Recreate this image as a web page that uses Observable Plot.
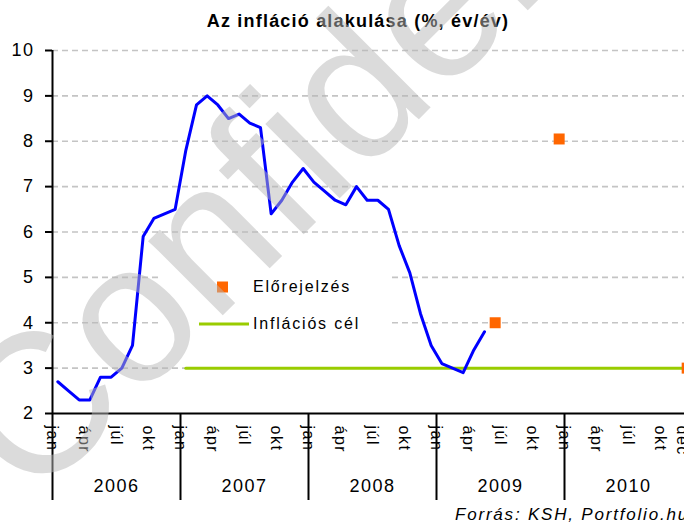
<!DOCTYPE html>
<html><head><meta charset="utf-8">
<script src="https://cdn.jsdelivr.net/npm/d3@7"></script>
<script src="https://cdn.jsdelivr.net/npm/@observablehq/plot@0.6"></script>
<style>
html,body{margin:0;padding:0;background:#fff;overflow:hidden;}
</style></head><body><div id="chart"></div>
<script>
// ---- data ----
const startYear = 2006;
const inflation = [
  2.7, 2.5, 2.3, 2.3, 2.8, 2.8, 3.0, 3.5, 5.9, 6.3, 6.4, 6.5,   // 2006
  7.8, 8.8, 9.0, 8.8, 8.5, 8.6, 8.4, 8.3, 6.4, 6.7, 7.1, 7.4,   // 2007
  7.1, 6.9, 6.7, 6.6, 7.0, 6.7, 6.7, 6.5, 5.7, 5.1, 4.2, 3.5,   // 2008
  3.1, 3.0, 2.9, 3.4, 3.8                                       // 2009
];
const forecastMonths = ["2009-06", "2009-12", "2010-12"];
const forecastValues = [4.0, 8.05, 3.0];
const targetMonths = ["2007-01", "2010-12"];
const targetValue = 3;
const years = [2006, 2007, 2008, 2009, 2010];
const monthLabels = ["jan", "ápr", "júl", "okt"];
const lastMonthLabel = {month: "2010-12", label: "dec"};
const yTicks = [2, 3, 4, 5, 6, 7, 8, 9, 10];
const title = "Az infláció alakulása (%, év/év)";
const legendLabels = ["Előrejelzés", "Inflációs cél"];
const source = "Forrás: KSH, Portfolio.hu";
const watermark = "Confidential";

// ---- helpers ----
const idx = s => { const [y, m] = s.split("-").map(Number); return (y - startYear) * 12 + (m - 1); };
const lineData = inflation.map((v, i) => ({m: i + 0.5, v}));
const forecastData = forecastMonths.map((s, i) => ({m: idx(s) + 0.5, v: forecastValues[i]}));
const targetData = targetMonths.map(s => ({m: idx(s) + 0.5, v: targetValue}));
const yearTicks = years.map((y, i) => i * 12);
const yearData = years.map((y, i) => ({m: i * 12 + 6, label: String(y)}));
const monthData = [];
years.forEach((y, i) => monthLabels.forEach((l, j) => monthData.push({m: i * 12 + j * 3, label: l})));
monthData.push({m: idx(lastMonthLabel.month), label: lastMonthLabel.label});

const FONT = "'Liberation Sans', Arial, sans-serif";

const plot = Plot.plot({
  width: 684, height: 527,
  marginLeft: 52, marginRight: 0, marginTop: 50, marginBottom: 114,
  x: {domain: [0, 59.25], axis: null, label: null},
  y: {domain: [2, 10], axis: null, label: null},
  style: {fontFamily: FONT, fontSize: "16px", background: "#fff", color: "#000", letterSpacing: "1.5px"},
  marks: [
    Plot.ruleY(yTicks.filter(d => d > 2), {stroke: "#c4c4c4", strokeWidth: 1.6, strokeDasharray: "6,4"}),
    Plot.axisY(yTicks, {tickSize: 7, tickPadding: 11, fontSize: 18, stroke: "#000", strokeWidth: 2, fill: "#000", label: null}),
    Plot.axisX(yearTicks, {tickSize: 87, tickFormat: () => "", stroke: "#000", strokeWidth: 2, label: null}),
    Plot.ruleX([0], {stroke: "#000", strokeWidth: 2}),
    Plot.ruleY([2], {stroke: "#000", strokeWidth: 2}),
    Plot.text(monthData, {x: "m", text: "label", frameAnchor: "bottom", rotate: 90, textAnchor: "start", lineAnchor: "middle", dy: 12, fontSize: 16, fill: "#000"}),
    Plot.text(yearData, {x: "m", text: "label", frameAnchor: "bottom", lineAnchor: "middle", dy: 73, fontSize: 18, fill: "#000"}),
    Plot.line(targetData, {x: "m", y: "v", stroke: "#99cc00", strokeWidth: 3}),
    Plot.line(lineData, {x: "m", y: "v", stroke: "#0000ff", strokeWidth: 3}),
    Plot.dot(forecastData, {x: "m", y: "v", symbol: "square", fill: "#ff6600", r: 6.2})
  ]
});
document.getElementById("chart").append(plot);

const svg = d3.select(plot);
svg.append("text").attr("x", 358).attr("y", 27).attr("text-anchor", "middle")
  .attr("font-weight", "bold").attr("font-size", 18).attr("font-family", FONT)
  .style("letter-spacing", "1.2px").attr("fill", "#000").text(title);

const lg = svg.append("g").attr("font-family", FONT).attr("font-size", 16)
  .attr("text-anchor", "start").style("letter-spacing", "1.8px");
lg.append("rect").attr("x", 160).attr("y", 262).attr("width", 228).attr("height", 80).attr("fill", "#fff");
lg.append("rect").attr("x", 217).attr("y", 281.5).attr("width", 11).attr("height", 11).attr("fill", "#ff6600");
lg.append("text").attr("x", 253).attr("y", 292).attr("fill", "#000").text(legendLabels[0]);
lg.append("line").attr("x1", 199).attr("x2", 249).attr("y1", 324).attr("y2", 324).attr("stroke", "#99cc00").attr("stroke-width", 3);
lg.append("text").attr("x", 253).attr("y", 329).attr("fill", "#000").text(legendLabels[1]);

svg.append("text").attr("x", 455).attr("y", 520).attr("text-anchor", "start")
  .attr("font-family", FONT).attr("font-size", 17)
  .attr("font-style", "italic").style("letter-spacing", "1.8px").attr("fill", "#000").text(source);

svg.append("text").attr("transform", "translate(33,505) rotate(-45)").attr("text-anchor", "start")
  .attr("font-family", FONT).attr("font-size", 199).attr("fill", "#b8b8b8").attr("opacity", 0.5)
  .style("letter-spacing", "0px").text(watermark);
</script></body></html>
